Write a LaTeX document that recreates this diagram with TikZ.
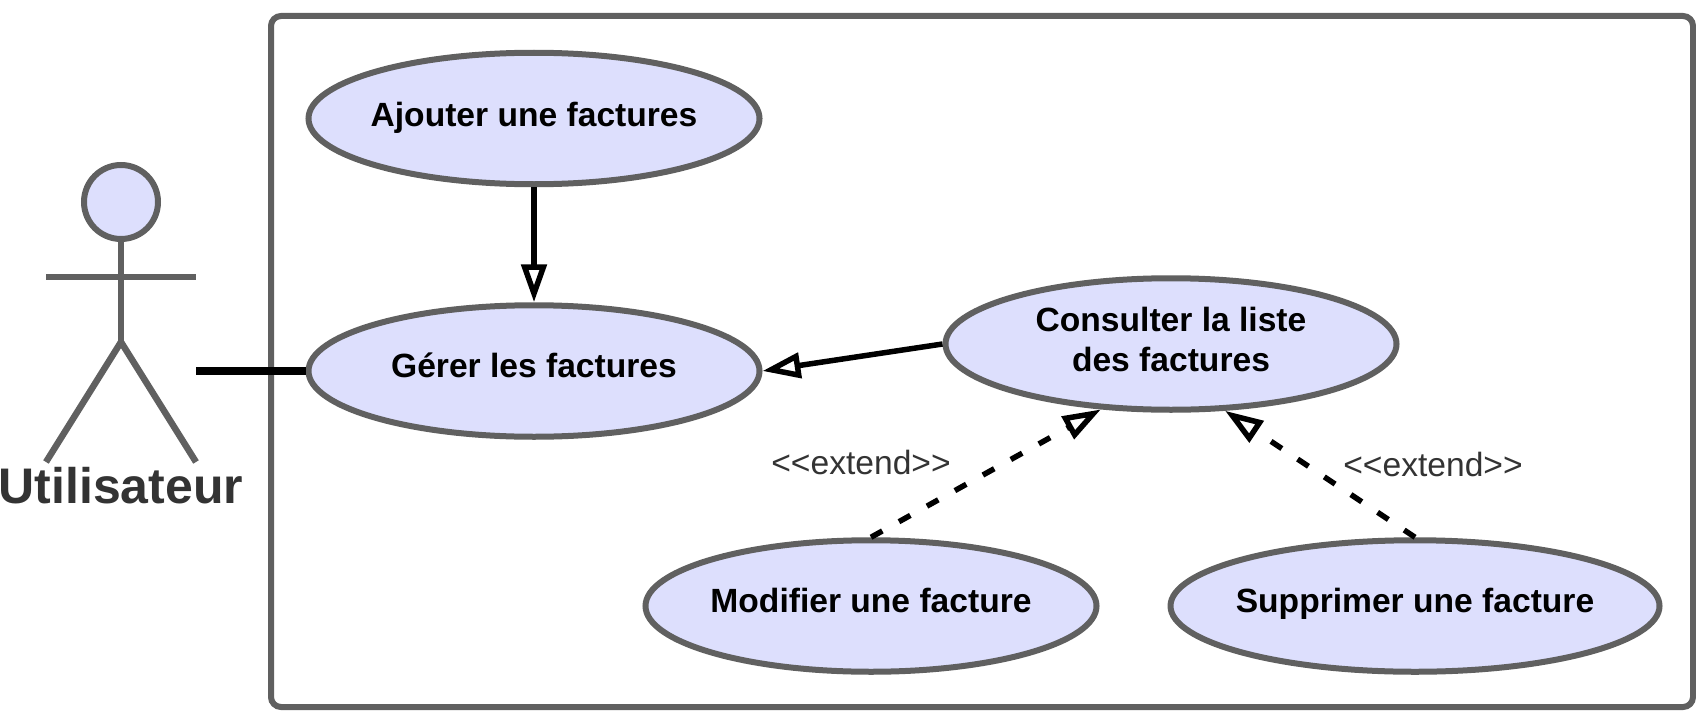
\documentclass[tikz,border=0pt]{standalone}
\usepackage{fontspec}
\setmainfont{Liberation Sans}
\usetikzlibrary{shapes.geometric,arrows.meta}
\definecolor{ucfill}{HTML}{DDDFFD}
\definecolor{ucgray}{HTML}{606060}
\definecolor{uctext}{HTML}{333333}
\newcommand{\lift}[1]{\raisebox{#1}}
\newcommand{\uctitle}[2]{\smash{\makebox[0pt][c]{\raisebox{#1}{#2}}}}
\tikzset{
  usecase/.style={ellipse,draw=ucgray,fill=ucfill,line width=6pt,minimum height=131.5pt,inner sep=0pt,
    font=\fontsize{33.6}{40}\selectfont\bfseries,text=black,align=center},
  actorline/.style={draw=ucgray,line width=6.5pt},
  assoc/.style={draw=black,line width=8pt},
  gen/.style={draw=black,line width=5.5pt,-{Triangle[open,fill=white,length=38pt,width=25pt]}},
  gendash/.style={gen,dash pattern=on 13pt off 19pt},
  lab/.style={font=\fontsize{33.6}{40}\selectfont,text=uctext,inner sep=0pt}
}
\begin{document}
\begin{tikzpicture}[x=1pt,y=-1pt]
\useasboundingbox (0,0) rectangle (1696,725);
\draw[draw=ucgray,line width=6pt,rounded corners=10pt] (271,16) rectangle (1693,707);
% actor
\node[circle,draw=ucgray,fill=ucfill,line width=6pt,minimum size=74pt,inner sep=0pt] (head) at (121,202) {};
\coordinate (hip) at (121,342);
\coordinate (armL) at (46,277);
\coordinate (armR) at (196,277);
\coordinate (footL) at (46,462);
\coordinate (footR) at (196,462);
\coordinate (assocEnd) at (196,371);
\draw[actorline] (head.south) -- (hip);
\draw[actorline] (armL) -- (armR);
\draw[actorline,line join=round] (footL) -- (hip) -- (footR);
\node[font=\fontsize{50}{58}\selectfont\bfseries,text=uctext,inner sep=0pt] (actorname) at (121,486) {Utilisateur};
% use cases
\node[usecase,minimum width=451pt] (ajouter) at (534,118.5) {\uctitle{-7.5pt}{Ajouter une factures}};
\node[usecase,minimum width=451pt] (gerer) at (534,371) {\uctitle{-6.5pt}{Gérer les factures}};
\node[usecase,minimum width=451pt] (consulter) at (1171,344) {\lift{9pt}{Consulter la liste}\\\lift{9pt}{des factures}};
\node[usecase,minimum width=451pt] (modifier) at (871,606) {\uctitle{-6.6pt}{Modifier une facture}};
\node[usecase,minimum width=489pt] (supprimer) at (1415,606) {\uctitle{-6.6pt}{Supprimer une facture}};
% connectors
\draw[assoc] (assocEnd) -- (gerer.west);
\draw[gen] (ajouter.south) -- (gerer.north);
\draw[gen] (consulter.west) -- (gerer.east);
\draw[gendash] (modifier.north) -- (consulter.223);
\draw[gendash] (supprimer.north) -- (consulter.-51);
% labels
\node[lab] (ext1) at (861,462) {<{}<{}extend>{}>};
\node[lab] (ext2) at (1433,464) {<{}<{}extend>{}>};
\end{tikzpicture}
\end{document}
